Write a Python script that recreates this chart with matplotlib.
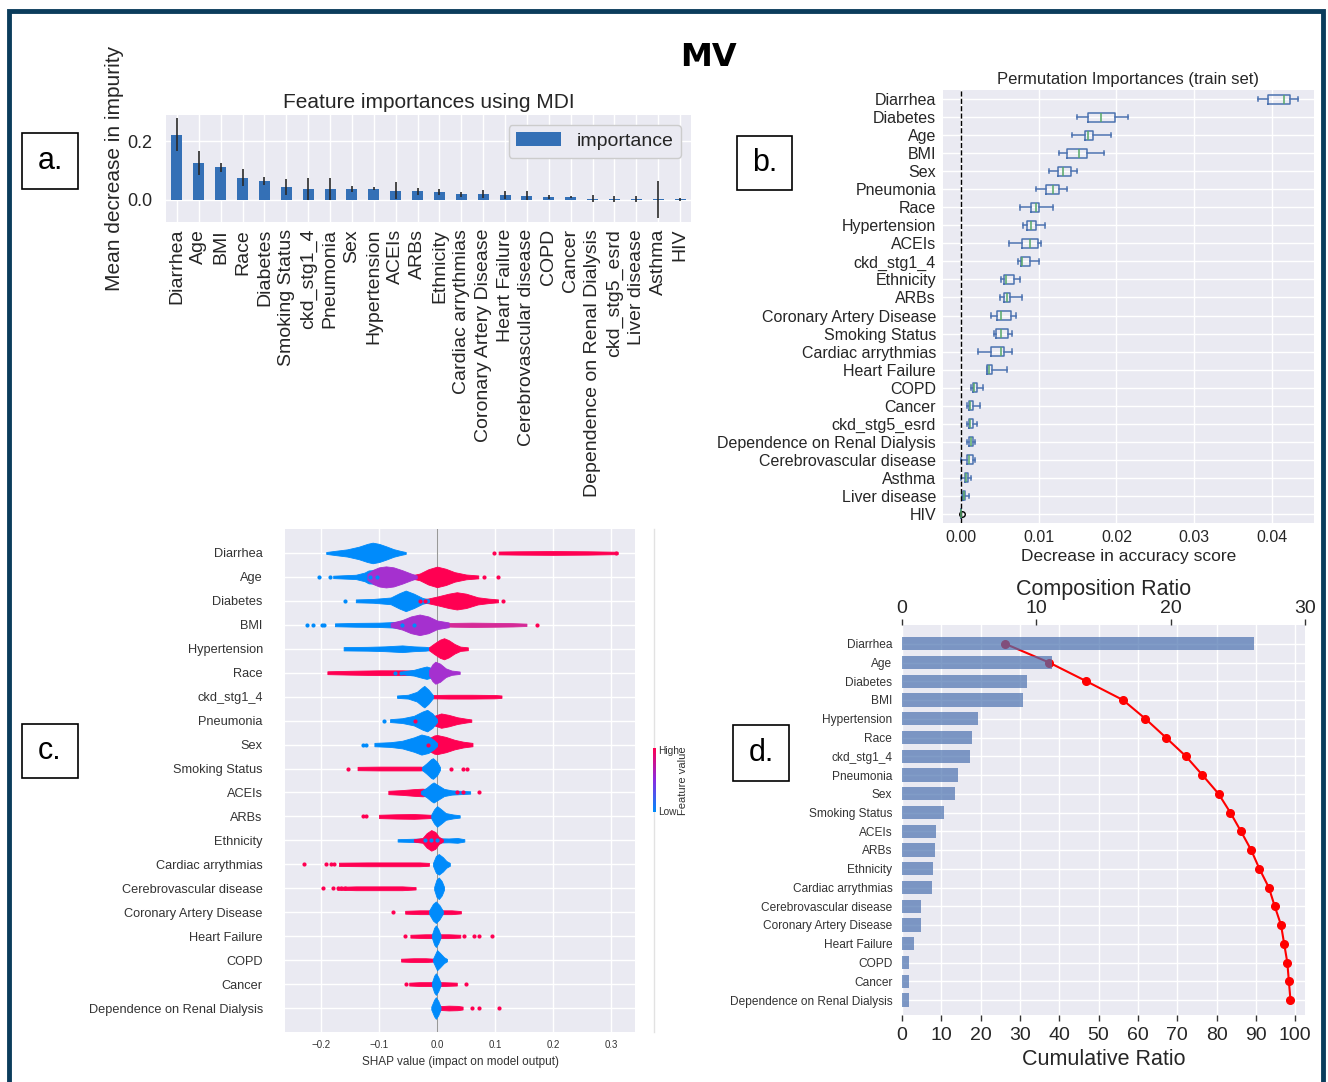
import numpy as np
import matplotlib
matplotlib.use("Agg")
import matplotlib.pyplot as plt
from matplotlib.patches import Rectangle
from matplotlib.lines import Line2D
from matplotlib.colors import LinearSegmentedColormap

W, H = 1328, 1082

# ---------------- panel a: MDI importances ----------------
mdi_features = ["Diarrhea", "Age", "BMI", "Race", "Diabetes", "Smoking Status", "ckd_stg1_4",
                "Pneumonia", "Sex", "Hypertension", "ACEIs", "ARBs", "Ethnicity",
                "Cardiac arrythmias", "Coronary Artery Disease", "Heart Failure",
                "Cerebrovascular disease", "COPD", "Cancer", "Dependence on Renal Dialysis",
                "ckd_stg5_esrd", "Liver disease", "Asthma", "HIV"]
mdi_values = [0.223, 0.125, 0.110, 0.075, 0.064, 0.043, 0.037, 0.037, 0.037, 0.037, 0.031,
              0.028, 0.025, 0.018, 0.018, 0.015, 0.013, 0.009, 0.008, 0.002, 0.002, 0.002,
              0.001, 0.0005]
mdi_errors = [0.055, 0.040, 0.016, 0.030, 0.013, 0.026, 0.038, 0.037, 0.010, 0.005, 0.030,
              0.011, 0.010, 0.009, 0.014, 0.014, 0.015, 0.006, 0.004, 0.012, 0.009, 0.010,
              0.063, 0.004]

# ---------------- panel b: permutation importances ----------------
perm_features = ["Diarrhea", "Diabetes", "Age", "BMI", "Sex", "Pneumonia", "Race", "Hypertension",
                 "ACEIs", "ckd_stg1_4", "Ethnicity", "ARBs", "Coronary Artery Disease",
                 "Smoking Status", "Cardiac arrythmias", "Heart Failure", "COPD", "Cancer",
                 "ckd_stg5_esrd", "Dependence on Renal Dialysis", "Cerebrovascular disease",
                 "Asthma", "Liver disease", "HIV"]
perm_whislo = [0.0382, 0.0149, 0.0143, 0.0126, 0.0113, 0.0096, 0.0076, 0.0080, 0.0062, 0.0073,
               0.0052, 0.0050, 0.0039, 0.0043, 0.0022, 0.0033, 0.0013, 0.0008, 0.0008, 0.0008,
               0.0000, 0.0000, 0.0002, 0.0]
perm_q1 = [0.0395, 0.0164, 0.0159, 0.0136, 0.0125, 0.0110, 0.0090, 0.0085, 0.0078, 0.0077,
           0.0056, 0.0056, 0.0047, 0.0045, 0.0039, 0.0033, 0.0015, 0.0010, 0.0010, 0.0011,
           0.0008, 0.0005, 0.0003, 0.0]
perm_med = [0.0415, 0.0180, 0.0163, 0.0152, 0.0131, 0.0119, 0.0096, 0.0090, 0.0089, 0.0078,
            0.0058, 0.0059, 0.0052, 0.0052, 0.0051, 0.0036, 0.0017, 0.0012, 0.0012, 0.0013,
            0.0010, 0.0007, 0.0004, 0.0]
perm_q3 = [0.0423, 0.0198, 0.0170, 0.0162, 0.0141, 0.0126, 0.0100, 0.0096, 0.0099, 0.0089,
           0.0068, 0.0063, 0.0065, 0.0060, 0.0055, 0.0040, 0.0021, 0.0016, 0.0016, 0.0016,
           0.0015, 0.0009, 0.0005, 0.0]
perm_whishi = [0.0433, 0.0215, 0.0193, 0.0184, 0.0149, 0.0136, 0.0118, 0.0108, 0.0103, 0.0100,
               0.0076, 0.0079, 0.0071, 0.0066, 0.0066, 0.0059, 0.0029, 0.0025, 0.0021, 0.0018,
               0.0018, 0.0013, 0.0010, 0.0]
perm_fliers = {"HIV": [0.0002]}

# ---------------- panel c: SHAP summary ----------------
shap_features = ["Diarrhea", "Age", "Diabetes", "BMI", "Hypertension", "Race", "ckd_stg1_4",
                 "Pneumonia", "Sex", "Smoking Status", "ACEIs", "ARBs", "Ethnicity",
                 "Cardiac arrythmias", "Cerebrovascular disease", "Coronary Artery Disease",
                 "Heart Failure", "COPD", "Cancer", "Dependence on Renal Dialysis"]
# density outlines: (row, x knots, half-height of the swarm at each knot)
shap_blue = [
    (0, [-0.191, -0.175, -0.155, -0.135, -0.12, -0.111, -0.1, -0.088, -0.075, -0.062, -0.054],
        [0.04, 0.09, 0.15, 0.26, 0.38, 0.43, 0.38, 0.28, 0.16, 0.08, 0.04]),
    (1, [-0.179, -0.16, -0.14, -0.125, -0.118, -0.1, -0.08, -0.06, -0.04],
        [0.05, 0.07, 0.09, 0.18, 0.27, 0.3, 0.25, 0.12, 0.06]),
    (2, [-0.14, -0.11, -0.08, -0.065, -0.054, -0.04, -0.025, -0.014],
        [0.06, 0.08, 0.14, 0.32, 0.43, 0.3, 0.12, 0.06]),
    (3, [-0.176, -0.14, -0.1, -0.07, -0.05, -0.02, 0.0], [0.06, 0.08, 0.09, 0.12, 0.15, 0.1, 0.05]),
    (4, [-0.161, -0.12, -0.09, -0.06, -0.04, -0.02, -0.01], [0.07, 0.08, 0.1, 0.14, 0.1, 0.08, 0.05]),
    (5, [-0.06, -0.04, -0.025, -0.018, -0.01, -0.004], [0.06, 0.12, 0.22, 0.26, 0.2, 0.08]),
    (6, [-0.069, -0.05, -0.035, -0.025, -0.022, -0.015, -0.007], [0.05, 0.08, 0.2, 0.4, 0.45, 0.3, 0.06]),
    (7, [-0.081, -0.06, -0.04, -0.025, -0.017, -0.008, 0.0], [0.06, 0.1, 0.2, 0.38, 0.45, 0.3, 0.06]),
    (8, [-0.108, -0.08, -0.06, -0.04, -0.027, -0.015, -0.005, 0.0],
        [0.07, 0.1, 0.16, 0.3, 0.42, 0.35, 0.18, 0.06]),
    (9, [-0.026, -0.018, -0.01, -0.007, 0.0, 0.005], [0.06, 0.22, 0.4, 0.43, 0.28, 0.06]),
    (10, [-0.028, -0.018, -0.01, -0.006, 0.002, 0.012, 0.025, 0.04, 0.057],
         [0.05, 0.2, 0.36, 0.42, 0.3, 0.15, 0.09, 0.07, 0.05]),
    (11, [-0.01, -0.005, 0.0, 0.006, 0.015, 0.028, 0.039], [0.08, 0.3, 0.43, 0.32, 0.14, 0.08, 0.05]),
    (12, [-0.068, -0.04, -0.02, 0.0, 0.02, 0.035, 0.047], [0.05, 0.07, 0.08, 0.09, 0.08, 0.1, 0.05]),
    (13, [-0.007, -0.002, 0.003, 0.01, 0.016, 0.022], [0.06, 0.35, 0.43, 0.3, 0.14, 0.06]),
    (14, [-0.005, -0.001, 0.003, 0.008, 0.012], [0.06, 0.36, 0.45, 0.3, 0.06]),
    (15, [-0.014, -0.007, -0.002, 0.004, 0.01], [0.06, 0.35, 0.45, 0.3, 0.06]),
    (16, [-0.009, -0.005, -0.002, 0.002, 0.006], [0.06, 0.35, 0.45, 0.3, 0.06]),
    (17, [-0.007, -0.002, 0.0, 0.005, 0.012, 0.017], [0.06, 0.32, 0.42, 0.3, 0.12, 0.05]),
    (18, [-0.009, -0.005, -0.002, 0.002, 0.006], [0.06, 0.35, 0.45, 0.3, 0.06]),
    (19, [-0.01, -0.005, -0.002, 0.002, 0.006], [0.06, 0.35, 0.45, 0.3, 0.06]),
]
shap_red = [
    (0, [0.106, 0.14, 0.2, 0.26, 0.311], [0.06, 0.07, 0.08, 0.07, 0.05]),
    (1, [-0.045, -0.03, -0.015, 0.0, 0.015, 0.03, 0.05, 0.071], [0.06, 0.14, 0.32, 0.43, 0.34, 0.2, 0.1, 0.06]),
    (2, [-0.034, -0.015, 0.0, 0.02, 0.034, 0.05, 0.07, 0.09, 0.105],
        [0.05, 0.1, 0.18, 0.3, 0.36, 0.3, 0.15, 0.09, 0.06]),
    (4, [-0.014, -0.005, 0.005, 0.012, 0.02, 0.03, 0.04, 0.053], [0.06, 0.22, 0.38, 0.44, 0.36, 0.2, 0.09, 0.06]),
    (5, [-0.189, -0.15, -0.1, -0.06, -0.03, -0.01], [0.06, 0.08, 0.1, 0.1, 0.08, 0.05]),
    (6, [-0.007, 0.02, 0.06, 0.1, 0.111], [0.07, 0.08, 0.08, 0.07, 0.05]),
    (7, [-0.014, -0.005, 0.007, 0.02, 0.035, 0.05, 0.059], [0.06, 0.2, 0.3, 0.24, 0.14, 0.08, 0.05]),
    (8, [-0.027, -0.015, -0.005, 0.0, 0.015, 0.03, 0.045, 0.061], [0.08, 0.25, 0.38, 0.4, 0.32, 0.2, 0.12, 0.07]),
    (9, [-0.137, -0.1, -0.06, -0.03, -0.015], [0.07, 0.08, 0.08, 0.08, 0.06]),
    (10, [-0.084, -0.06, -0.04, -0.025, -0.01, 0.0], [0.07, 0.1, 0.14, 0.16, 0.12, 0.06]),
    (11, [-0.1, -0.07, -0.04, -0.02, -0.005], [0.07, 0.09, 0.1, 0.08, 0.06]),
    (12, [-0.04, -0.025, -0.018, -0.01, -0.003, 0.003, 0.01], [0.05, 0.1, 0.3, 0.43, 0.35, 0.15, 0.05]),
    (13, [-0.169, -0.12, -0.07, -0.03, -0.014], [0.07, 0.08, 0.08, 0.08, 0.06]),
    (14, [-0.172, -0.14, -0.1, -0.06, -0.037], [0.06, 0.08, 0.08, 0.08, 0.05]),
    (15, [-0.055, -0.03, -0.01, 0.01, 0.025, 0.041], [0.06, 0.08, 0.08, 0.08, 0.08, 0.05]),
    (16, [-0.046, -0.02, 0.0, 0.02, 0.04], [0.06, 0.08, 0.08, 0.08, 0.06]),
    (17, [-0.062, -0.04, -0.02, -0.005], [0.06, 0.08, 0.08, 0.06]),
    (18, [-0.048, -0.03, -0.01, 0.01, 0.034], [0.06, 0.08, 0.08, 0.08, 0.06]),
    (19, [0.005, 0.02, 0.035, 0.044], [0.08, 0.1, 0.09, 0.06]),
]
shap_purple = [
    (1, [-0.12, -0.11, -0.1, -0.088, -0.075, -0.06, -0.045, -0.035], [0.12, 0.3, 0.4, 0.44, 0.4, 0.28, 0.14, 0.06]),
    (3, [-0.08, -0.06, -0.045, -0.03, -0.015, 0.0, 0.02], [0.08, 0.2, 0.35, 0.43, 0.35, 0.18, 0.1]),
    (5, [-0.014, -0.008, -0.003, 0.005, 0.015, 0.025, 0.039], [0.1, 0.35, 0.46, 0.38, 0.18, 0.09, 0.05]),
]
shap_magenta = [
    (3, [0.0, 0.03, 0.06, 0.1, 0.13, 0.154], [0.06, 0.08, 0.09, 0.08, 0.07, 0.05]),
]
# single points outside the dense swarms: (row, x)
shap_blue_dots = [(1, -0.203), (1, -0.185), (1, -0.115), (1, -0.104), (2, -0.159), (3, -0.224),
                  (3, -0.214), (3, -0.198), (3, -0.194), (3, -0.06), (3, -0.04), (5, -0.072),
                  (5, -0.062), (5, -0.052), (7, -0.091), (8, -0.128), (8, -0.122), (12, -0.02),
                  (12, -0.01), (12, 0.0)]
shap_red_dots = [(0, 0.098), (0, 0.308), (1, 0.081), (1, 0.105), (2, 0.114), (2, -0.03),
                 (2, -0.02), (3, 0.172), (7, -0.038), (8, -0.015), (9, -0.154), (9, 0.024),
                 (9, 0.044), (9, 0.052), (10, 0.072), (10, 0.035), (10, 0.045), (11, -0.128),
                 (11, -0.122), (13, -0.23), (13, -0.191), (13, -0.183), (13, -0.177), (14, -0.196),
                 (14, -0.18), (14, -0.17), (14, -0.165), (14, -0.158), (15, -0.076), (16, -0.055),
                 (16, 0.047), (16, 0.064), (16, 0.073), (16, 0.095), (18, -0.054), (18, 0.049),
                 (19, 0.061), (19, 0.073), (19, 0.107)]

# ---------------- panel d: pareto ----------------
pareto_features = ["Diarrhea", "Age", "Diabetes", "BMI", "Hypertension", "Race", "ckd_stg1_4",
                   "Pneumonia", "Sex", "Smoking Status", "ACEIs", "ARBs", "Ethnicity",
                   "Cardiac arrythmias", "Cerebrovascular disease", "Coronary Artery Disease",
                   "Heart Failure", "COPD", "Cancer", "Dependence on Renal Dialysis"]
composition = [26.2, 11.2, 9.3, 9.0, 5.65, 5.24, 5.04, 4.18, 3.92, 3.11, 2.51, 2.42, 2.31, 2.25,
               1.44, 1.44, 0.86, 0.55, 0.49, 0.49]
cumulative = [26.2, 37.4, 46.9, 56.2, 61.9, 67.1, 72.2, 76.4, 80.5, 83.5, 86.2, 88.8, 90.9, 93.3,
              94.8, 96.4, 97.2, 98.0, 98.4, 98.8]

C0 = "#4c72b0"
C2 = "#55a868"
SHAP_BLUE = "#008bfb"
SHAP_RED = "#ff0052"
SHAP_PURPLE = "#a530cf"
SHAP_MAGENTA = "#d52a97"
TXT = "#262626"

plt.rcParams.update({
    "font.family": ["Liberation Sans", "DejaVu Sans"],
    "axes.facecolor": "#eaeaf2",
    "axes.edgecolor": "white",
    "grid.color": "white",
    "grid.linewidth": 1.0,
    "text.color": TXT,
    "xtick.color": TXT,
    "ytick.color": TXT,
    "axes.labelcolor": TXT,
})

fig = plt.figure(figsize=(W / 100, H / 100), dpi=100)


def px_axes(l, t, r, b):
    return fig.add_axes([l / W, 1 - b / H, (r - l) / W, (b - t) / H])


def clean(ax):
    for s in ax.spines.values():
        s.set_visible(False)
    ax.set_axisbelow(True)
    ax.grid(True)


# ---------- a ----------
ax = px_axes(166, 115, 691, 222)
clean(ax)
xa = np.arange(len(mdi_features))
ax.bar(xa, mdi_values, width=0.5, color="#3470b6", label="importance", zorder=2)
ax.errorbar(xa, mdi_values, yerr=mdi_errors, fmt="none", ecolor="#2a2a2a", elinewidth=1.2, zorder=3)
ax.set_xlim(-0.5, len(mdi_features) - 0.5)
ax.set_ylim(-0.077, 0.29)
ax.set_yticks([0.0, 0.2])
ax.set_yticklabels(["0.0", "0.2"], fontsize=13)
ax.set_xticks(xa)
ax.set_xticklabels(mdi_features, rotation=90, fontsize=14)
ax.tick_params(axis="x", length=0, pad=5)
ax.tick_params(axis="y", length=0, pad=10)
ax.set_title("Feature importances using MDI", fontsize=15, pad=5)
ax.set_ylabel("Mean decrease in impurity", fontsize=15)
ax.yaxis.set_label_coords(-0.08, 0.5)
leg = ax.legend(loc="upper right", fontsize=14, handlelength=2.3, borderpad=0.4,
                facecolor="#eaeaf2", edgecolor="#cccccc", framealpha=1)

# ---------- b ----------
ax = px_axes(943, 90, 1314, 523)
clean(ax)
n = len(perm_features)
pos = np.arange(n, 0, -1)
stats = []
for i, f in enumerate(perm_features):
    stats.append(dict(med=perm_med[i], q1=perm_q1[i], q3=perm_q3[i], whislo=perm_whislo[i],
                      whishi=perm_whishi[i], fliers=perm_fliers.get(f, [])))
ax.bxp(stats, positions=pos, vert=False, widths=0.5,
       boxprops=dict(color=C0, lw=1.1), whiskerprops=dict(color=C0, lw=1.1),
       capprops=dict(color=C0, lw=1.1), medianprops=dict(color=C2, lw=1.1),
       flierprops=dict(marker="o", markerfacecolor="none", markeredgecolor="black", markersize=4))
ax.axvline(0, color="black", ls="--", lw=1)
ax.set_ylim(0.5, n + 0.5)
ax.set_yticks(pos)
ax.set_yticklabels(perm_features, fontsize=11.5)
ax.set_xlim(-0.0023, 0.0454)
ax.set_xticks([0.0, 0.01, 0.02, 0.03, 0.04])
ax.set_xticklabels(["0.00", "0.01", "0.02", "0.03", "0.04"], fontsize=11.5)
ax.tick_params(length=0, pad=5)
ax.set_title("Permutation Importances (train set)", fontsize=12, pad=4)
ax.set_xlabel("Decrease in accuracy score", fontsize=12.5, labelpad=3)

# ---------- c ----------
ax = px_axes(285, 529, 635, 1032)
clean(ax)
nr = len(shap_features)
ax.set_xlim(-0.262, 0.341)
ax.set_ylim(-1, nr)
ax.axvline(0, color="#999999", lw=0.8, zorder=1.5)
layers = [(shap_blue, SHAP_BLUE), (shap_red, SHAP_RED), (shap_purple, SHAP_PURPLE),
          (shap_magenta, SHAP_MAGENTA)]
for blobs, col in layers:
    for row, xs, hs in blobs:
        yc = nr - 1 - row
        hs = np.asarray(hs)
        ax.fill_between(xs, yc - hs, yc + hs, color=col, lw=0.6, edgecolor=col,
                        zorder=2 + hs.max())
for dots, col in [(shap_blue_dots, SHAP_BLUE), (shap_red_dots, SHAP_RED)]:
    ax.scatter([d[1] for d in dots], [nr - 1 - d[0] for d in dots], s=9, color=col,
               lw=0, zorder=4)
ax.set_yticks(np.arange(nr - 1, -1, -1))
ax.set_yticklabels(shap_features, fontsize=9.2, color="#333333")
ax.set_xticks([-0.2, -0.1, 0.0, 0.1, 0.2, 0.3])
ax.set_xticklabels(["\u22120.2", "\u22120.1", "0.0", "0.1", "0.2", "0.3"], fontsize=7, color="#333333")
ax.tick_params(axis="y", length=0, pad=16)
ax.tick_params(axis="x", length=0, pad=6)
ax.set_xlabel("SHAP value (impact on model output)", fontsize=8.5, color="#333333", labelpad=4)

# colour bar
fig.add_artist(Line2D([654 / W, 654 / W], [1 - 529 / H, 1 - 1032 / H], color="#e2e2e2", lw=1,
                      zorder=-1))
cmap = LinearSegmentedColormap.from_list("shap", [SHAP_BLUE, "#8a2be2", SHAP_RED])
axcb = px_axes(652.5, 748, 655.5, 812)
axcb.imshow(np.linspace(1, 0, 100)[:, None], aspect="auto", cmap=cmap, interpolation="bilinear")
axcb.set_axis_off()
fig.text(658 / W, 1 - 751 / H, "High", fontsize=7.3, color="#333333", va="center")
fig.text(658 / W, 1 - 812 / H, "Low", fontsize=7.3, color="#333333", va="center")
fig.text(683 / W, 1 - 781 / H, "Feature value", fontsize=8, color="#333333", rotation=90,
         va="center", ha="center")

# ---------- d ----------
ax = px_axes(902, 625, 1305, 1015)
clean(ax)
yd = np.arange(len(pareto_features))
ax.plot(cumulative, yd, "o-", color="red", lw=1.5, ms=5.5, zorder=2)
ax.set_xlim(0, 102.5)
ax.set_ylim(len(pareto_features) - 0.2, -1.0)
ax.set_xticks(np.arange(0, 101, 10))
ax.set_xticklabels([str(v) for v in range(0, 101, 10)], fontsize=14)
ax.set_yticks(yd)
ax.set_yticklabels(pareto_features, fontsize=8.6, color="#333333")
ax.tick_params(axis="y", length=0, pad=7)
ax.tick_params(axis="x", length=4, width=1, color="#333333", pad=5)
ax.set_xlabel("Cumulative Ratio", fontsize=15.5, labelpad=3)
axt = ax.twiny()
for s in axt.spines.values():
    s.set_visible(False)
axt.grid(False)
axt.barh(yd, composition, height=0.7, color=C0, alpha=0.7, zorder=3)
axt.set_xlim(0, 30)
axt.set_xticks([0, 10, 20, 30])
axt.set_xticklabels(["0", "10", "20", "30"], fontsize=14)
axt.tick_params(axis="x", length=4, width=1, color="#333333", pad=2)
axt.set_xlabel("Composition Ratio", fontsize=15.5, labelpad=3)

# ---------- decorations ----------
fig.text(708 / W, 1 - 58 / H, "MV", fontsize=23, fontweight="bold", family="DejaVu Sans",
         ha="center", va="center", color="black")

for lab, (l, t, r, b) in {"a.": (22, 133, 78, 189), "b.": (737, 136, 792, 190),
                          "c.": (22, 724, 78, 778), "d.": (733, 725, 789, 781)}.items():
    fig.add_artist(Rectangle((l / W, 1 - b / H), (r - l) / W, (b - t) / H, transform=fig.transFigure,
                             facecolor="white", edgecolor="black", lw=1.2))
    fig.text((l + r) / 2 / W, 1 - (t + b) / 2 / H, lab, fontsize=22, ha="center", va="center",
             color="black")

fig.add_artist(Rectangle((8.5 / W, -0.02), (1323 - 8.5) / W, 1.02 - 10.5 / H, transform=fig.transFigure,
                         fill=False, edgecolor="#0b3d5c", lw=3.5))

fig.savefig("out.png", dpi=100)
